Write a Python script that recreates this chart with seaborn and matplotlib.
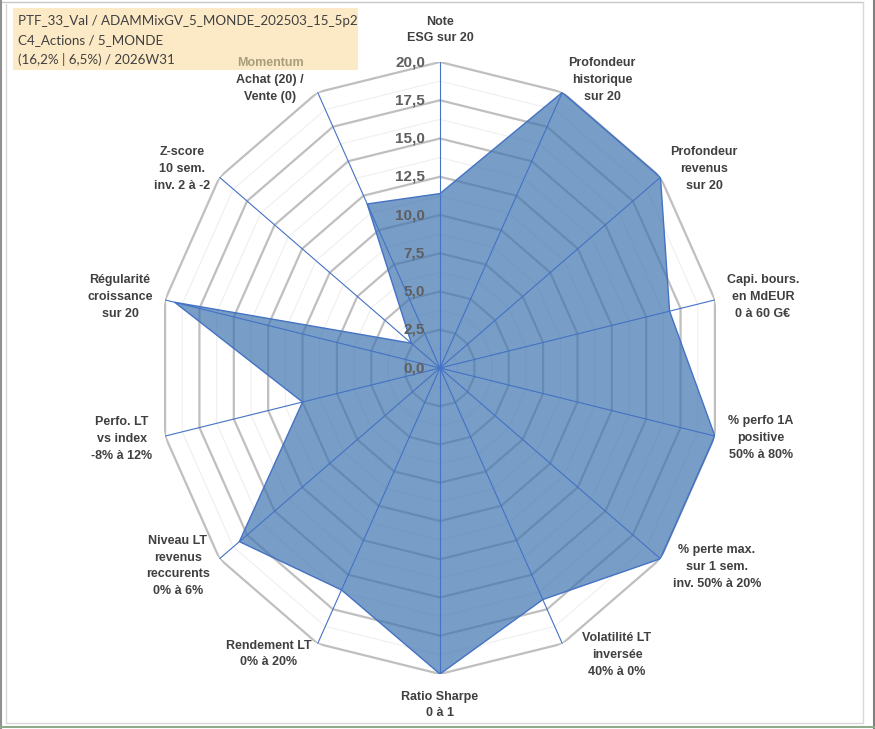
import numpy as np
import matplotlib
matplotlib.use("Agg")
import matplotlib.pyplot as plt
from matplotlib.patches import Rectangle
from matplotlib.lines import Line2D
from matplotlib import font_manager
import seaborn as sns

# ---------------- data ----------------
categories = [
    "Note\nESG sur 20",
    "Profondeur\nhistorique\nsur 20",
    "Profondeur\nrevenus\nsur 20",
    "Capi. bours.\nen MdEUR\n0 à 60 G€",
    "% perfo 1A\npositive\n50% à 80%",
    "% perte max.\nsur 1 sem.\ninv. 50% à 20%",
    "Volatilité LT\ninversée\n40% à 0%",
    "Ratio Sharpe\n0 à 1",
    "Rendement LT\n0% à 20%",
    "Niveau LT\nrevenus\nreccurents\n0% à 6%",
    "Perfo. LT\nvs index\n-8% à 12%",
    "Régularité\ncroissance\nsur 20",
    "Z-score\n10 sem.\ninv. 2 à -2",
    "Momentum\nAchat (20) /\nVente (0)",
]
values = [11.4, 20.0, 20.0, 16.7, 20.0, 20.0, 16.8, 20.0, 16.1, 18.2, 10.0, 19.3, 2.6, 11.9]
r_ticks = [0, 2.5, 5, 7.5, 10, 12.5, 15, 17.5, 20]
r_tick_labels = ["0,0", "2,5", "5,0", "7,5", "10,0", "12,5", "15,0", "17,5", "20,0"]
title_lines = [
    "PTF_33_Val / ADAMMixGV_5_MONDE_202503_15_5p2",
    "C4_Actions / 5_MONDE",
    "(16,2% | 6,5%) / 2026W31",
]
# label block centres (pixels in the 875x729 image)
label_pos = [(440, 30), (602, 80), (704, 169), (763, 297), (761, 438), (717, 567),
             (617, 655), (440, 705), (269, 654), (178, 566), (122, 439), (120, 297),
             (182, 169), (270, 80)]

# ---------------- style ----------------
sns.set_theme(style="white")
avail = {f.name for f in font_manager.fontManager.ttflist}
lab_font = "Liberation Sans" if "Liberation Sans" in avail else "DejaVu Sans"
title_font = "Lato" if "Lato" in avail else lab_font
plt.rcParams["font.family"] = [lab_font, "DejaVu Sans"]

W, H = 875, 729
fig = plt.figure(figsize=(W / 100, H / 100), dpi=100)
fig.patch.set_facecolor("white")

cx, cy, Rx, Ry = 440, 368, 282, 306
ax = fig.add_axes([(cx - Rx) / W, (H - cy - Ry) / H, 2 * Rx / W, 2 * Ry / H], projection="polar")
ax.set_aspect("auto")
ax.set_theta_zero_location("N")
ax.set_theta_direction(-1)
ax.set_ylim(0, 20)
ax.grid(False)
ax.spines["polar"].set_visible(False)
ax.set_xticks([])
ax.set_yticks([])
ax.set_facecolor("none")

n = len(categories)
theta = np.arange(n) * 2 * np.pi / n
theta_c = np.append(theta, 2 * np.pi)

# polygon grid rings
for r in np.arange(1.25, 20.01, 1.25):
    major = abs((r / 2.5) - round(r / 2.5)) < 1e-6
    ax.plot(theta_c, np.full(n + 1, r),
            color="#BFBFBF" if major else "#EFEFEF",
            lw=1.6 if major else 0.8, zorder=1)

# filled series
vals_c = np.append(values, values[0])
ax.fill(theta_c, vals_c, color="#3F74B0", alpha=0.7, lw=0, zorder=2)

# spokes
for t in theta:
    ax.plot([t, t], [0, 20], color="#4472C4", lw=0.8, zorder=3)

# outline
sns.lineplot(x=theta_c, y=vals_c, sort=False, estimator=None, ax=ax,
             color="#4472C4", lw=1.0, zorder=4)
ax.set_xlabel("")
ax.set_ylabel("")

# radial tick labels
for r, lab in zip(r_ticks, r_tick_labels):
    ax.annotate(lab, xy=(0, r), xytext=(-15, 0), textcoords="offset pixels",
                ha="right", va="center", fontsize=11, fontweight="bold",
                color="#5F5F5F", zorder=5)

# title box
fig.add_artist(Rectangle((13 / W, 1 - 70 / H), 345 / W, 62 / H,
                         transform=fig.transFigure, facecolor="#FCE9C6",
                         edgecolor="none", zorder=1))
for i, line in enumerate(title_lines):
    fig.text(18 / W, 1 - (21 + 19 * i) / H, line, ha="left", va="center",
             fontsize=9.6, color="#404040", family=[title_font, "DejaVu Sans"], zorder=2)

# category labels
LS = 1.52
for (px, py), lab in zip(label_pos, categories):
    lines = lab.split("\n")
    if lines[0] == "Momentum":
        fig.text(px / W, 1 - py / H, "\n".join([lines[0]] + [" "] * (len(lines) - 1)),
                 ha="center", va="center", multialignment="center", fontsize=9,
                 fontweight="bold", color="#A89E7C", linespacing=LS, zorder=3)
        lab = "\n".join([" "] + lines[1:])
    fig.text(px / W, 1 - py / H, lab, ha="center", va="center",
             multialignment="center", fontsize=9, fontweight="bold",
             color="#404040", linespacing=LS, zorder=3)

# frame
def fline(x0, y0, x1, y1, c, lw):
    fig.add_artist(Line2D([x0 / W, x1 / W], [1 - y0 / H, 1 - y1 / H],
                          transform=fig.transFigure, color=c, lw=lw, zorder=0))

fline(2, 1.5, 863, 1.5, "#C8C8C8", 1)
fline(6, 723, 863, 723, "#D8D8D8", 1)
fline(863, 1.5, 863, 723, "#D8D8D8", 1)
fline(6, 4, 6, 723, "#D8D8D8", 1)
fline(1, 0, 1, 729, "#909090", 1.5)
fline(873.5, 0, 873.5, 729, "#808080", 1.5)
fline(0, 727, 875, 727, "#8DAA8D", 1.5)

fig.savefig("out.png", dpi=100, facecolor="white")
